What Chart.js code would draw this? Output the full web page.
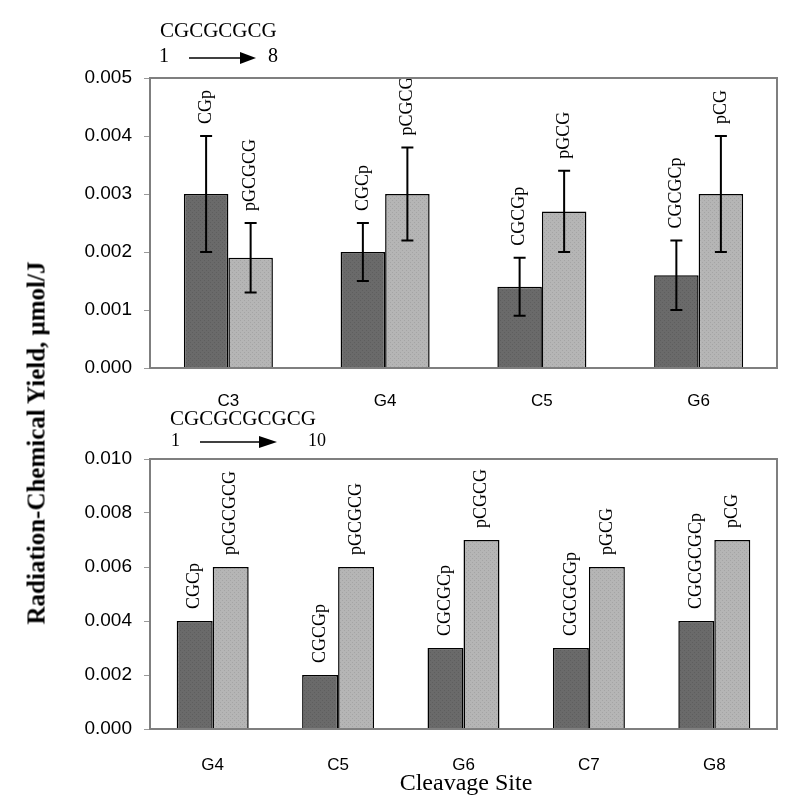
<!DOCTYPE html>
<html><head><meta charset="utf-8">
<script src="https://cdn.jsdelivr.net/npm/chart.js@4/dist/chart.umd.min.js"></script>
<style>
body{margin:0;background:#fff;width:800px;height:812px;position:relative;overflow:hidden}
.abs{position:absolute}
.serif{font-family:"Liberation Serif","Times New Roman",serif;color:#000;white-space:nowrap;line-height:1}
.cy{transform:translateY(-50%)}
</style></head><body>
<canvas id="c1" class="abs" width="800" height="410" style="left:0;top:0"></canvas>
<canvas id="c2" class="abs" width="800" height="402" style="left:0;top:410px"></canvas>

<div class="abs serif cy" style="left:160px;top:30px;font-size:21px">CGCGCGCG</div>
<div class="abs serif cy" style="left:159px;top:55px;font-size:20px">1</div>
<div class="abs serif cy" style="left:268px;top:55px;font-size:20px">8</div>
<svg class="abs" style="left:185px;top:48px" width="80" height="20"><line x1="4" y1="10" x2="58" y2="10" stroke="#000" stroke-width="1.5"/><polygon points="55,4 71,10 55,16" fill="#000"/></svg>

<div class="abs serif cy" style="left:170px;top:418px;font-size:21px">CGCGCGCGCG</div>
<div class="abs serif cy" style="left:171px;top:440px;font-size:18px">1</div>
<div class="abs serif cy" style="left:308px;top:440px;font-size:18px">10</div>
<svg class="abs" style="left:196px;top:432px" width="90" height="20"><line x1="4" y1="10" x2="66" y2="10" stroke="#000" stroke-width="1.5"/><polygon points="63,4 81,10 63,16" fill="#000"/></svg>

<div class="abs serif" style="left:36px;top:443px;font-size:25px;font-weight:bold;transform:translate(-50%,-50%) rotate(-90deg)">Radiation-Chemical Yield, μmol/J</div>
<div class="abs serif" style="left:466px;top:782px;font-size:24px;transform:translate(-50%,-50%)">Cleavage Site</div>

<script>
// ---- data ----
const topCategories = ['C3','G4','C5','G6'];
const topDark = [0.003, 0.002, 0.0014, 0.0016];
const topDarkErrLow = [0.002, 0.0015, 0.0009, 0.001];
const topDarkErrHigh = [0.004, 0.0025, 0.0019, 0.0022];
const topLight = [0.0019, 0.003, 0.0027, 0.003];
const topLightErrLow = [0.0013, 0.0022, 0.002, 0.002];
const topLightErrHigh = [0.0025, 0.0038, 0.0034, 0.004];
const topDarkLabels = ['CGp','CGCp','CGCGp','CGCGCp'];
const topLightLabels = ['pGCGCG','pCGCG','pGCG','pCG'];
const topYTicks = [0, 0.001, 0.002, 0.003, 0.004, 0.005];

const botCategories = ['G4','C5','G6','C7','G8'];
const botDark = [0.004, 0.002, 0.003, 0.003, 0.004];
const botLight = [0.006, 0.006, 0.007, 0.006, 0.007];
const botDarkLabels = ['CGCp','CGCGp','CGCGCp','CGCGCGp','CGCGCGCp'];
const botLightLabels = ['pCGCGCG','pGCGCG','pCGCG','pGCG','pCG'];
const botYTicks = [0, 0.002, 0.004, 0.006, 0.008, 0.010];

function dotPattern(base, dot) {
  const c = document.createElement('canvas');
  c.width = 4; c.height = 4;
  const g = c.getContext('2d');
  g.fillStyle = base; g.fillRect(0, 0, 4, 4);
  g.fillStyle = dot; g.fillRect(0, 0, 1, 1); g.fillRect(2, 2, 1, 1);
  return g.createPattern(c, 'repeat');
}
const DARK = dotPattern('#6a6a6a', '#5e5e5e');
const LIGHT = dotPattern('#b5b5b5', '#a4a4a4');

const annotPlugin = {
  id: 'annot',
  afterDatasetsDraw(chart) {
    const ctx = chart.ctx, ys = chart.scales.y;
    chart.data.datasets.forEach((ds, di) => {
      const meta = chart.getDatasetMeta(di);
      meta.data.forEach((bar, i) => {
        let topVal = ds.data[i];
        if (ds.errLow) {
          const yl = ys.getPixelForValue(ds.errLow[i]);
          const yh = ys.getPixelForValue(ds.errHigh[i]);
          ctx.save();
          ctx.strokeStyle = '#000'; ctx.lineWidth = 2;
          ctx.beginPath();
          ctx.moveTo(bar.x, yl); ctx.lineTo(bar.x, yh);
          ctx.moveTo(bar.x - 6, yl); ctx.lineTo(bar.x + 6, yl);
          ctx.moveTo(bar.x - 6, yh); ctx.lineTo(bar.x + 6, yh);
          ctx.stroke();
          ctx.restore();
          topVal = ds.errHigh[i];
        }
        const yt = ys.getPixelForValue(topVal);
        ctx.save();
        ctx.translate(bar.x, yt - 12);
        ctx.rotate(-Math.PI / 2);
        ctx.font = '18px "Liberation Serif", "Times New Roman", serif';
        ctx.fillStyle = '#000';
        ctx.textAlign = 'left';
        ctx.textBaseline = 'middle';
        ctx.fillText(ds.labels[i], 0, 0);
        ctx.restore();
      });
    });
  },
  afterDraw(chart) {
    const a = chart.chartArea, ctx = chart.ctx;
    ctx.save();
    ctx.strokeStyle = '#7f7f7f'; ctx.lineWidth = 2;
    ctx.strokeRect(a.left, a.top, a.right - a.left, a.bottom - a.top);
    ctx.restore();
  }
};

function makeChart(id, cats, dark, light, darkLabels, lightLabels, yTicks, ymax, padTop, axisH, xPad, catPct, errs) {
  const dsDark = { data: dark, backgroundColor: DARK, borderColor: '#000', borderWidth: 1.5, labels: darkLabels };
  const dsLight = { data: light, backgroundColor: LIGHT, borderColor: '#000', borderWidth: 1.5, labels: lightLabels };
  if (errs) {
    dsDark.errLow = errs[0]; dsDark.errHigh = errs[1];
    dsLight.errLow = errs[2]; dsLight.errHigh = errs[3];
  }
  return new Chart(document.getElementById(id), {
    type: 'bar',
    data: { labels: cats, datasets: [dsDark, dsLight] },
    options: {
      responsive: false, animation: false,
      layout: { padding: { top: padTop, right: 23, left: 0, bottom: 0 } },
      plugins: { legend: { display: false }, tooltip: { enabled: false } },
      datasets: { bar: { categoryPercentage: catPct, barPercentage: 1.0 } },
      scales: {
        x: {
          grid: { display: false }, border: { display: false },
          ticks: { color: '#000', padding: xPad, font: { family: '"Liberation Sans", Arial, sans-serif', size: 17 } },
          afterFit(s) { s.height = axisH; }
        },
        y: {
          min: 0, max: ymax,
          afterBuildTicks(s) { s.ticks = yTicks.map(v => ({ value: v })); },
          grid: { drawOnChartArea: false, tickLength: 6, color: '#999' },
          border: { display: false },
          ticks: { color: '#000', padding: 12, font: { family: '"Liberation Sans", Arial, sans-serif', size: 19 },
                   callback: v => Number(v).toFixed(3) },
          afterFit(s) { s.width = 150; }
        }
      }
    },
    plugins: [annotPlugin]
  });
}

makeChart('c1', topCategories, topDark, topLight, topDarkLabels, topLightLabels, topYTicks, 0.005, 78, 42, 15, 0.568,
  [topDarkErrLow, topDarkErrHigh, topLightErrLow, topLightErrHigh]);
makeChart('c2', botCategories, botDark, botLight, botDarkLabels, botLightLabels, botYTicks, 0.010, 49, 83, 18, 0.574, null);
</script>
</body></html>
